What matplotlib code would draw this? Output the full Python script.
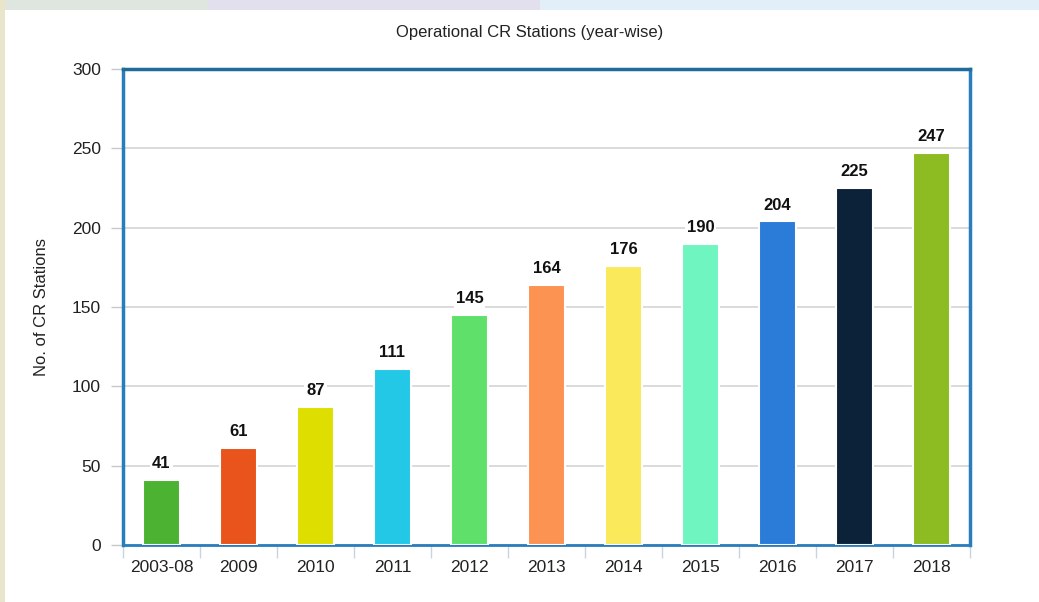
import matplotlib
matplotlib.use("Agg")
import matplotlib.pyplot as plt
from matplotlib.patches import Rectangle

categories = ["2003-08", "2009", "2010", "2011", "2012", "2013", "2014", "2015", "2016", "2017", "2018"]
values = [41, 61, 87, 111, 145, 164, 176, 190, 204, 225, 247]
colors = ["#4cb232", "#e8541c", "#dede00", "#22c8e6", "#5fe06a", "#fd9352",
          "#fbe95c", "#6ef5c0", "#2b7bd8", "#0c2238", "#8cbc22"]
yticks = [0, 50, 100, 150, 200, 250, 300]

plt.rcParams['font.family'] = ['Liberation Sans', 'DejaVu Sans']

fig = plt.figure(figsize=(10.39, 6.02), dpi=100)
fig.patch.set_facecolor("#dcecf6")
# decorative background
fig.patches.append(Rectangle((0, 0), 1, 1, transform=fig.transFigure, facecolor="#e3eff8", edgecolor="none", zorder=-3))
fig.patches.append(Rectangle((0, 0.983), 0.2, 0.017, transform=fig.transFigure, facecolor="#dfe6e0", edgecolor="none", zorder=-2))
fig.patches.append(Rectangle((0.2, 0.983), 0.32, 0.017, transform=fig.transFigure, facecolor="#e2e0ec", edgecolor="none", zorder=-2))
fig.patches.append(Rectangle((0, 0), 0.006, 1, transform=fig.transFigure, facecolor="#e9e4cc", edgecolor="none", zorder=-2))
fig.patches.append(Rectangle((0.005, 0), 0.995, 0.983, transform=fig.transFigure, facecolor="white", edgecolor="none", zorder=-1))

W, H = 1039, 602
left, right, top, bottom = 123, 970, 69, 545
ax = fig.add_axes([left / W, 1 - bottom / H, (right - left) / W, (bottom - top) / H])
ax.set_facecolor("white")

x = list(range(len(categories)))
bars = ax.bar(x, values, width=0.49, color=colors, edgecolor="white", linewidth=1.5, zorder=3)
for xi, v in zip(x, values):
    ax.text(xi, v + 5.5, str(v), ha="center", va="bottom",
            fontsize=12, fontweight="bold", color="#111111", zorder=4,
            bbox=dict(facecolor="white", edgecolor="none", pad=1.5))

ax.set_xlim(-0.5, len(categories) - 0.5)
ax.set_ylim(0, 300)
ax.set_yticks(yticks)
ax.set_xticks(x)
ax.set_xticklabels(categories)
ax.set_xticks([i + 0.5 for i in range(-1, len(categories))], minor=True)
ax.tick_params(axis="x", which="major", length=0, pad=11, labelsize=12.5, labelcolor="#222222")
ax.tick_params(axis="x", which="minor", length=9, color="#c8d4e0", width=1)
ax.tick_params(axis="y", length=9, color="#c8c8c8", width=1, pad=7, labelsize=12.5, labelcolor="#222222")
ax.yaxis.grid(True, color="#d4d4d4", linewidth=1.2, zorder=0)
ax.set_axisbelow(True)
for s in ["left", "right", "top"]:
    ax.spines[s].set_color("#2a7dbd")
    ax.spines[s].set_linewidth(2.5)
ax.spines["top"].set_color("#1f6c9a")
ax.spines["bottom"].set_color("#2a7dbd")
ax.spines["bottom"].set_linewidth(2)

ax.set_ylabel("No. of CR Stations", fontsize=12, color="#222222", labelpad=16)
fig.text(530 / W, 1 - 32 / H, "Operational CR Stations (year-wise)",
         ha="center", va="center", fontsize=12, color="#222222")

fig.savefig("out.png", dpi=100, facecolor=fig.get_facecolor())
